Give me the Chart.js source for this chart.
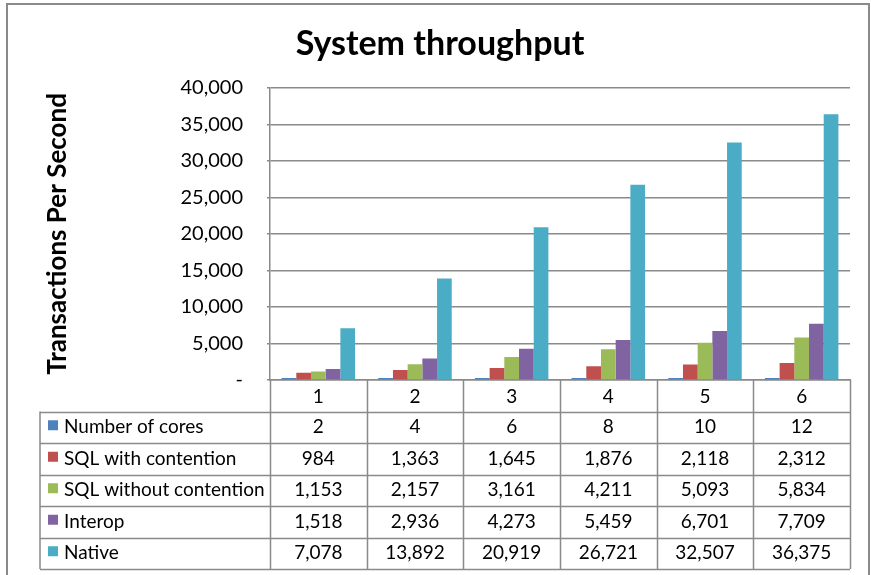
<!DOCTYPE html>
<html>
<head>
<meta charset="utf-8">
<script src="https://cdn.jsdelivr.net/npm/chart.js@4.4.1/dist/chart.umd.min.js"></script>
<style>
html,body{margin:0;padding:0;background:#fff}
#wrap{position:relative;width:871px;height:575px}
</style>
</head>
<body>
<div id="wrap"><canvas id="c"></canvas></div>
<script>
// ---- data ----
const categories = ['1', '2', '3', '4', '5', '6'];
const numberOfCores = [2, 4, 6, 8, 10, 12];
const sqlWithContention = [984, 1363, 1645, 1876, 2118, 2312];
const sqlWithoutContention = [1153, 2157, 3161, 4211, 5093, 5834];
const interop = [1518, 2936, 4273, 5459, 6701, 7709];
const native = [7078, 13892, 20919, 26721, 32507, 36375];
const seriesNames = ['Number of cores', 'SQL with contention', 'SQL without contention', 'Interop', 'Native'];
const yMin = 0, yMax = 40000, yStep = 5000;
const chartTitle = 'System throughput';
const yAxisTitle = 'Transactions Per Second';

// ---- styles ----
const seriesColors = ['#4F81BD', '#C0504D', '#9BBB59', '#8064A2', '#4BACC6'];
const FONT = 'Lato, "Open Sans", sans-serif';
const LINE = '#8a8a8a';

const fmt = v => v.toLocaleString('en-US');

const seriesValues = [numberOfCores, sqlWithContention, sqlWithoutContention, interop, native];

const framePlugin = {
  id: 'frame',
  afterDraw(chart) {
    const ctx = chart.ctx;
    ctx.save();
    ctx.strokeStyle = LINE;
    ctx.lineWidth = 2;
    ctx.strokeRect(7, 4, 862, 620);
    ctx.restore();
  }
};

const tablePlugin = {
  id: 'dataTable',
  afterDraw(chart) {
    const ctx = chart.ctx;
    const area = chart.chartArea;
    const xs = chart.scales.x;
    const n = chart.data.labels.length;
    const colW = (area.right - area.left) / n;
    const headerBottom = area.bottom + 31.5;
    const tableLeft = 40;
    const tableBottom = 569;
    const ds = chart.data.datasets;
    const rowH = (tableBottom - headerBottom) / ds.length;
    ctx.save();
    ctx.strokeStyle = LINE;
    ctx.lineWidth = 1.5;
    for (let i = 0; i <= n; i++) {
      const bx = Math.round(area.left + i * colW) + 0.5;
      ctx.beginPath();
      ctx.moveTo(bx, area.bottom);
      ctx.lineTo(bx, tableBottom);
      ctx.stroke();
    }
    ctx.beginPath();
    ctx.moveTo(tableLeft, headerBottom);
    ctx.lineTo(tableLeft, tableBottom);
    ctx.stroke();
    for (let r = 0; r <= ds.length; r++) {
      const y = Math.round(headerBottom + r * rowH) + 0.5;
      ctx.beginPath();
      ctx.moveTo(tableLeft, y);
      ctx.lineTo(area.right, y);
      ctx.stroke();
    }
    ctx.font = '19px ' + FONT;
    ctx.textBaseline = 'middle';
    ds.forEach((d, r) => {
      const cy = headerBottom + r * rowH + rowH / 2;
      ctx.fillStyle = d.backgroundColor;
      ctx.fillRect(48, cy - 7, 10, 10);
      ctx.fillStyle = '#000';
      ctx.textAlign = 'left';
      ctx.fillText(d.label, 64, cy);
      ctx.textAlign = 'center';
      d.data.forEach((v, i) => {
        ctx.fillText(fmt(v), xs.getPixelForValue(i), cy);
      });
    });
    ctx.restore();
  }
};

new Chart(document.getElementById('c'), {
  type: 'bar',
  data: {
    labels: categories,
    datasets: seriesNames.map((name, k) => ({
      label: name,
      data: seriesValues[k],
      backgroundColor: seriesColors[k],
      borderWidth: 0,
      minBarLength: k === 0 ? 2 : 0,
      categoryPercentage: 0.76,
      barPercentage: 1.0
    }))
  },
  options: {
    responsive: true,
    maintainAspectRatio: false,
    animation: false,
    layout: { padding: { left: 30, right: 21, top: 0, bottom: 0 } },
    plugins: {
      legend: { display: false },
      tooltip: { enabled: false },
      title: {
        display: true,
        text: chartTitle,
        color: '#000',
        font: { family: FONT, size: 34, weight: 'bold' },
        padding: { top: 24, bottom: 23 }
      }
    },
    scales: {
      x: {
        grid: { display: false, drawTicks: false },
        border: { display: true, color: LINE, width: 1.5 },
        ticks: { color: '#000', font: { family: FONT, size: 19 }, padding: 5 },
        afterFit(scale) { scale.height = 195; }
      },
      y: {
        min: yMin,
        max: yMax,
        grid: { color: LINE, lineWidth: 1.5, tickLength: 3 },
        border: { display: true, color: LINE, width: 1.5 },
        ticks: {
          stepSize: yStep,
          color: '#000',
          padding: 24,
          font: { family: FONT, size: 20 },
          callback: v => v === 0 ? '-' : fmt(v)
        },
        title: {
          display: true,
          text: yAxisTitle,
          color: '#000',
          font: { family: FONT, size: 26, weight: 'bold' },
          padding: { top: 12, bottom: 0 }
        },
        afterFit(scale) { scale.width = 240; }
      }
    }
  },
  plugins: [framePlugin, tablePlugin]
});
</script>
</body>
</html>
